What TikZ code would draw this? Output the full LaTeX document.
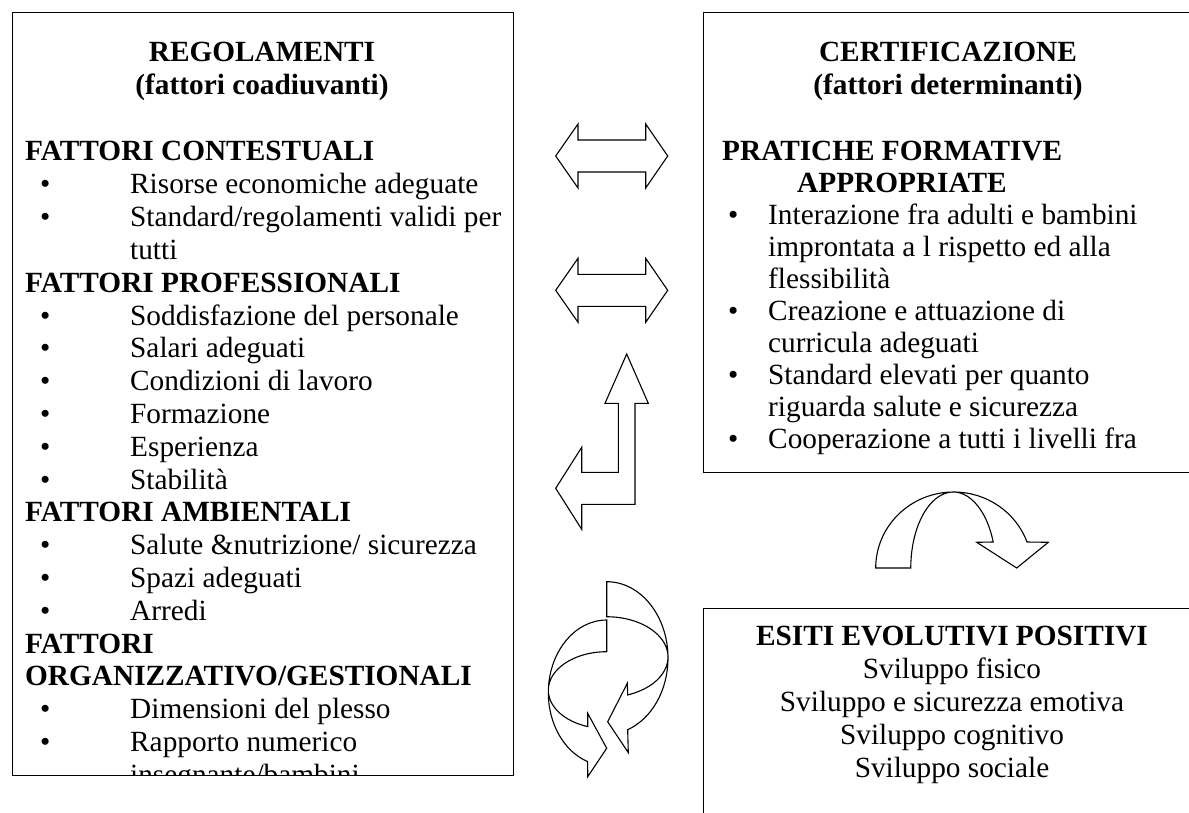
\documentclass[tikz,border=0pt]{standalone}
\usepackage{fontspec}
\setmainfont{Liberation Serif}
\newcommand\fs{\fontsize{29.3}{33}\selectfont}
\newcommand\lbul[4]{\node[bl] (#1d) at (#2,-#3) {\textbullet}; \node[bl] (#1) at (#2+90,-#3) {#4};}
\newcommand\rbul[4]{\node[bl] (#1d) at (#2,-#3) {\textbullet}; \node[bl] (#1) at (#2+40,-#3) {#4};}
\begin{document}
\begin{tikzpicture}[x=1pt,y=1pt,
  box/.style={draw, line width=1.3pt, inner sep=0pt, anchor=north west},
  bl/.style={anchor=base west, inner sep=0pt, font=\fs},
  hd/.style={anchor=base west, inner sep=0pt, font=\fs\bfseries},
  ctr/.style={anchor=base, inner sep=0pt, font=\fs},
  ctrb/.style={anchor=base, inner sep=0pt, font=\fs\bfseries},
  shp/.style={draw, line width=1.1pt, fill=white, line join=miter}]
\path[use as bounding box] (0,0) rectangle (1189,-813);
\clip (0,0) rectangle (1189,-813);
% boxes
\node[box, minimum width=501pt, minimum height=763pt] (lbox) at (12,-12) {};
\node[box, minimum width=500pt, minimum height=460pt] (rbox) at (703,-12) {};
\node[box, minimum width=500pt, minimum height=230pt] (ebox) at (703,-608) {};
% left box text
\begin{scope}
\clip (12,-12) rectangle (513,-775);
\node[ctrb] (lt1) at (262,-62) {REGOLAMENTI};
\node[ctrb] (lt2) at (262,-95) {(fattori coadiuvanti)};
\node[hd] (lh1) at (25,-161) {FATTORI CONTESTUALI};
\lbul{la1}{40}{193.8}{Risorse economiche adeguate}
\lbul{la2}{40}{226.6}{Standard/regolamenti validi per}
\node[bl] (la3) at (130,-259.4) {tutti};
\node[hd] (lh2) at (25,-292.2) {FATTORI PROFESSIONALI};
\lbul{lb1}{40}{325}{Soddisfazione del personale}
\lbul{lb2}{40}{357.8}{Salari adeguati}
\lbul{lb3}{40}{390.6}{Condizioni di lavoro}
\lbul{lb4}{40}{423.4}{Formazione}
\lbul{lb5}{40}{456.2}{Esperienza}
\lbul{lb6}{40}{489}{Stabilità}
\node[hd] (lh3) at (25,-521.8) {FATTORI AMBIENTALI};
\lbul{lc1}{40}{554.6}{Salute \&nutrizione/ sicurezza}
\lbul{lc2}{40}{587.4}{Spazi adeguati}
\lbul{lc3}{40}{620.2}{Arredi}
\node[hd] (lh4) at (25,-653) {FATTORI};
\node[hd] (lh5) at (25,-685.8) {ORGANIZZATIVO/GESTIONALI};
\lbul{ld1}{40}{718.6}{Dimensioni del plesso}
\lbul{ld2}{40}{751.4}{Rapporto numerico}
\node[bl] (ld3) at (130,-784.2) {insegnante/bambini};
\end{scope}
% right box text
\node[ctrb] (rt1) at (948,-62) {CERTIFICAZIONE};
\node[ctrb] (rt2) at (948,-95) {(fattori determinanti)};
\node[hd] (rh1) at (722,-161) {PRATICHE FORMATIVE};
\node[hd] (rh2) at (797,-192.9) {APPROPRIATE};
\rbul{ra1}{728}{224.8}{Interazione fra adulti e bambini}
\node[bl] (ra2) at (768,-256.7) {improntata a l rispetto ed alla};
\node[bl] (ra3) at (768,-288.6) {flessibilità};
\rbul{rb1}{728}{320.5}{Creazione e attuazione di}
\node[bl] (rb2) at (768,-352.4) {curricula adeguati};
\rbul{rc1}{728}{384.3}{Standard elevati per quanto}
\node[bl] (rc2) at (768,-416.2) {riguarda salute e sicurezza};
\rbul{rd1}{728}{448.1}{Cooperazione a tutti i livelli fra}
% outcomes box
\node[ctrb] (e0) at (952,-645) {ESITI EVOLUTIVI POSITIVI};
\node[ctr] (e1) at (952,-678) {Sviluppo fisico};
\node[ctr] (e2) at (952,-711) {Sviluppo e sicurezza emotiva};
\node[ctr] (e3) at (952,-744) {Sviluppo cognitivo};
\node[ctr] (e4) at (952,-777) {Sviluppo sociale};
% double arrows
\foreach \dy in {0,134.3}{
\draw[shp] (555.7,-156-\dy) -- (578,-124-\dy) -- (578,-140-\dy) -- (645.7,-140-\dy) -- (645.7,-124-\dy) -- (667.7,-156-\dy) -- (645.7,-188-\dy) -- (645.7,-172-\dy) -- (578,-172-\dy) -- (578,-188-\dy) -- cycle;
}
% bent arrow
\draw[shp] (626.7,-354) -- (648.3,-403.3) -- (635,-403.3) -- (635,-504.3) -- (581.7,-504.3) -- (581.7,-529.3) -- (555.7,-488.3) -- (581.7,-447.3) -- (581.7,-472.3) -- (618.3,-472.3) -- (618.3,-403.3) -- (605,-403.3) -- cycle;
% curved down arrow
\draw[shp] (875.7,-568) arc[start angle=180, end angle=20, x radius=78pt, y radius=76pt] -- (1048.3,-542.3) -- (1016.7,-568) -- (976.7,-542.3) -- (993.2,-542) arc[start angle=20, end angle=180, x radius=42.5pt, y radius=76pt] -- cycle;
% circular arrows
\draw[shp] (606.7,-581.7) arc[start angle=90, end angle=-70, x radius=61.3pt, y radius=76.3pt] -- (628.3,-752.7) -- (607.7,-721.7) -- (627.3,-683.3) -- (627.7,-694.9) arc[start angle=-70, end angle=90, x radius=61.3pt, y radius=40.3pt] -- cycle;
\draw[shp] (606.7,-620) arc[start angle=90, end angle=251, x radius=58.4pt, y radius=72.8pt] -- (587.7,-776.7) -- (606.7,-748.3) -- (587.7,-713.3) -- (587.7,-726.6) arc[start angle=251, end angle=90, x radius=58.4pt, y radius=38.5pt] -- cycle;
\end{tikzpicture}
\end{document}
